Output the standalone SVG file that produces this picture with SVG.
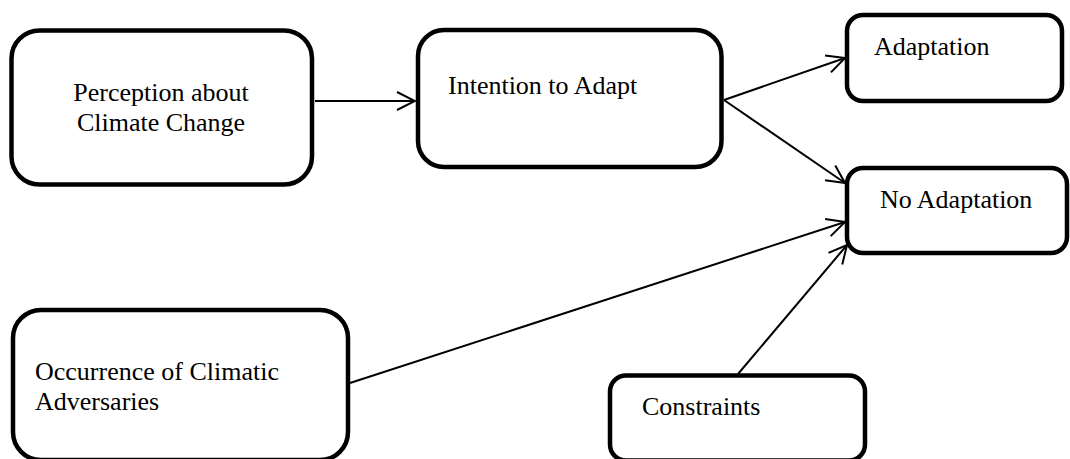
<svg xmlns="http://www.w3.org/2000/svg" width="1070" height="459" viewBox="0 0 1070 459">
<style>
.box{fill:#fff;stroke:#000;stroke-width:4.5}
.lbl{font-family:'Liberation Serif','Times New Roman','DejaVu Serif',serif;font-size:26px;fill:#000}
.conn{stroke:#000;stroke-width:2;fill:none}
</style>
<defs>
<marker id="arr" viewBox="0 0 20 20" refX="19" refY="10" markerWidth="20" markerHeight="20" markerUnits="userSpaceOnUse" orient="auto">
<path d="M1,1 L19,10 L1,19" fill="none" stroke="#000" stroke-width="2"/>
</marker>
</defs>
<rect width="1070" height="459" fill="#fff"/>
<g id="connectors">
<line class="conn" x1="315" y1="101" x2="415" y2="101" marker-end="url(#arr)"/>
<line class="conn" x1="724" y1="100" x2="845" y2="58" marker-end="url(#arr)"/>
<line class="conn" x1="724" y1="100" x2="845" y2="183" marker-end="url(#arr)"/>
<line class="conn" x1="350" y1="383" x2="845" y2="222" marker-end="url(#arr)"/>
<line class="conn" x1="738" y1="374" x2="847" y2="245" marker-end="url(#arr)"/>
</g>
<g id="perception">
<rect class="box" x="11.5" y="30.5" width="300.5" height="154" rx="28"/>
<text class="lbl" font-family="Liberation Serif, serif" x="161" y="101" text-anchor="middle">Perception about</text>
<text class="lbl" font-family="Liberation Serif, serif" x="161" y="131" text-anchor="middle">Climate Change</text>
</g>
<g id="intention">
<rect class="box" x="418" y="30" width="303.5" height="137" rx="26"/>
<text class="lbl" font-family="Liberation Serif, serif" x="448" y="94">Intention to Adapt</text>
</g>
<g id="adaptation">
<rect class="box" x="847" y="15" width="215" height="86" rx="16"/>
<text class="lbl" font-family="Liberation Serif, serif" x="874" y="55">Adaptation</text>
</g>
<g id="no-adaptation">
<rect class="box" x="847" y="168" width="220" height="85" rx="16"/>
<text class="lbl" font-family="Liberation Serif, serif" x="880" y="208">No Adaptation</text>
</g>
<g id="occurrence">
<rect class="box" x="13" y="310" width="335" height="150" rx="28"/>
<text class="lbl" font-family="Liberation Serif, serif" x="35" y="380">Occurrence of Climatic</text>
<text class="lbl" font-family="Liberation Serif, serif" x="35" y="410">Adversaries</text>
</g>
<g id="constraints">
<rect class="box" x="610" y="375.5" width="255" height="85" rx="16"/>
<text class="lbl" font-family="Liberation Serif, serif" x="642" y="415">Constraints</text>
</g>
</svg>
